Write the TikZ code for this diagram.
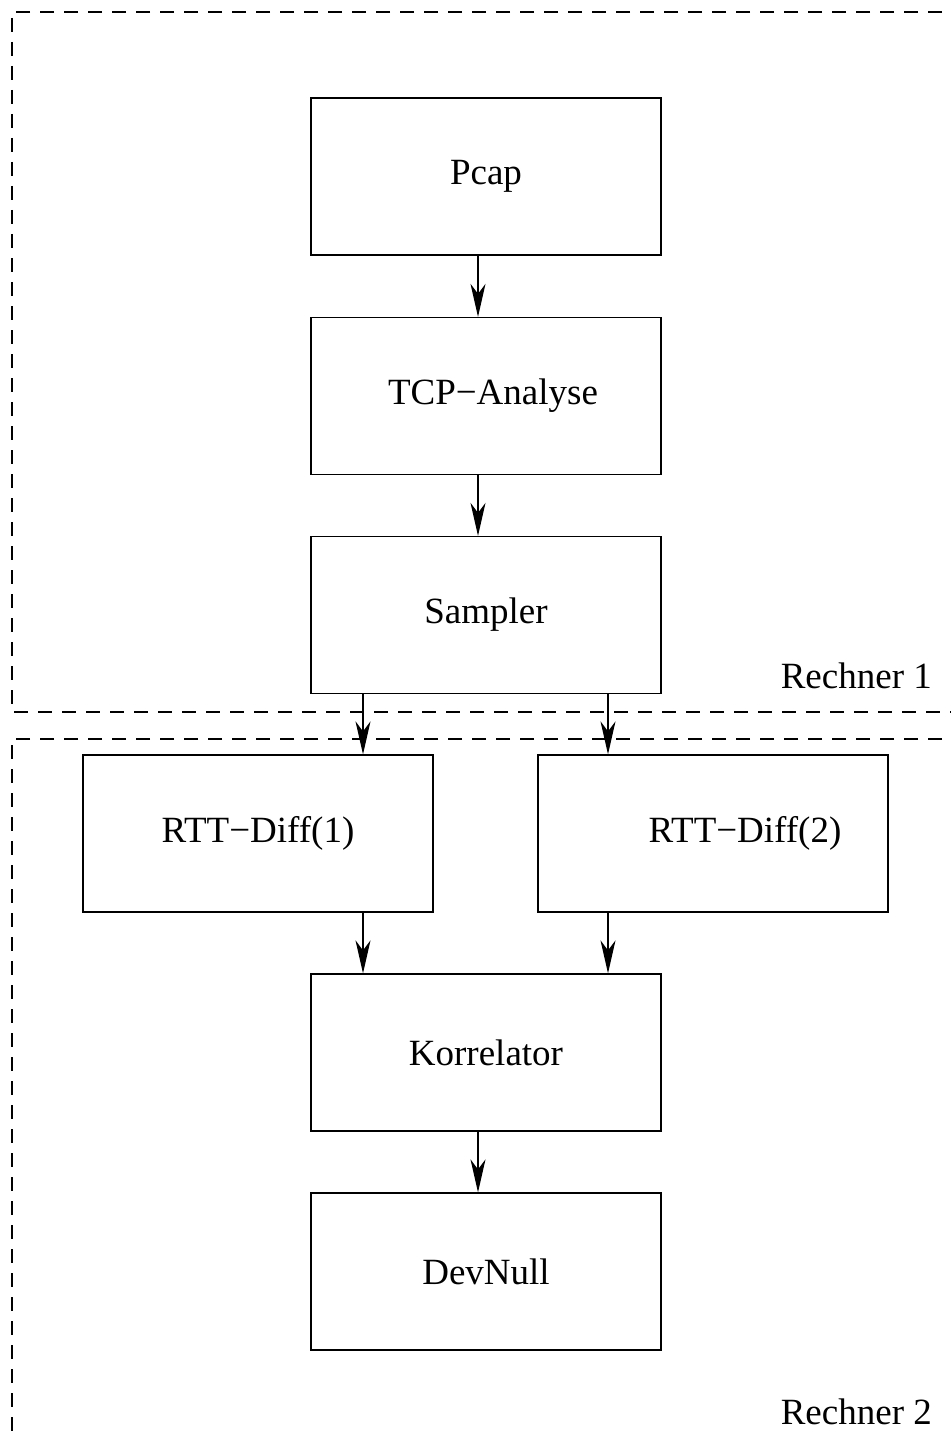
\documentclass[tikz,border=0pt]{standalone}
\usepackage{fontspec}
\setmainfont{Liberation Serif}
\usetikzlibrary{arrows.meta}
\begin{document}
\begin{tikzpicture}[x=1pt,y=-1pt,
  stage/.style={draw,line width=1.3pt,minimum width=350pt,minimum height=157pt,
    inner sep=0pt,font=\fontsize{37}{44}\selectfont},
  flow/.style={line width=1.3pt,-{Stealth[length=33pt,width=15pt,inset=10pt]}},
  zone/.style={line width=1.3pt,dash pattern=on 14pt off 10pt},
  zonelabel/.style={anchor=base east,inner sep=0pt,font=\fontsize{37}{44}\selectfont}]
\useasboundingbox (0,0) rectangle (950,1439);
% machine boundaries
\draw[zone] (990,12) -- (12,12) -- (12,712) -- (990,712);
\draw[zone] (990,739) -- (12,739) -- (12,1470);
\node[zonelabel] (r1) at (932,688) {Rechner 1};
\node[zonelabel] (r2) at (932,1424) {Rechner 2};
% processing stages
\node[stage] (pcap) at (486,176.5) {Pcap};
\node[stage] (tcp) at (486,396) {\hspace*{14pt}TCP−Analyse};
\node[stage] (samp) at (486,615) {Sampler};
\node[stage] (rtt1) at (258,833.5) {RTT−Diff(1)};
\node[stage] (rtt2) at (713,833.5) {\hspace*{64pt}RTT−Diff(2)};
\node[stage] (korr) at (486,1052.5) {Korrelator};
\node[stage] (dev) at (486,1271.5) {DevNull};
% data flow
\draw[flow] (pcap.south -| 478,0) -- (tcp.north -| 478,0);
\draw[flow] (tcp.south -| 478,0) -- (samp.north -| 478,0);
\draw[flow] (samp.south -| 363,0) -- (rtt1.north -| 363,0);
\draw[flow] (samp.south -| 608,0) -- (rtt2.north -| 608,0);
\draw[flow] (rtt1.south -| 363,0) -- (korr.north -| 363,0);
\draw[flow] (rtt2.south -| 608,0) -- (korr.north -| 608,0);
\draw[flow] (korr.south -| 478,0) -- (dev.north -| 478,0);
\end{tikzpicture}
\end{document}
